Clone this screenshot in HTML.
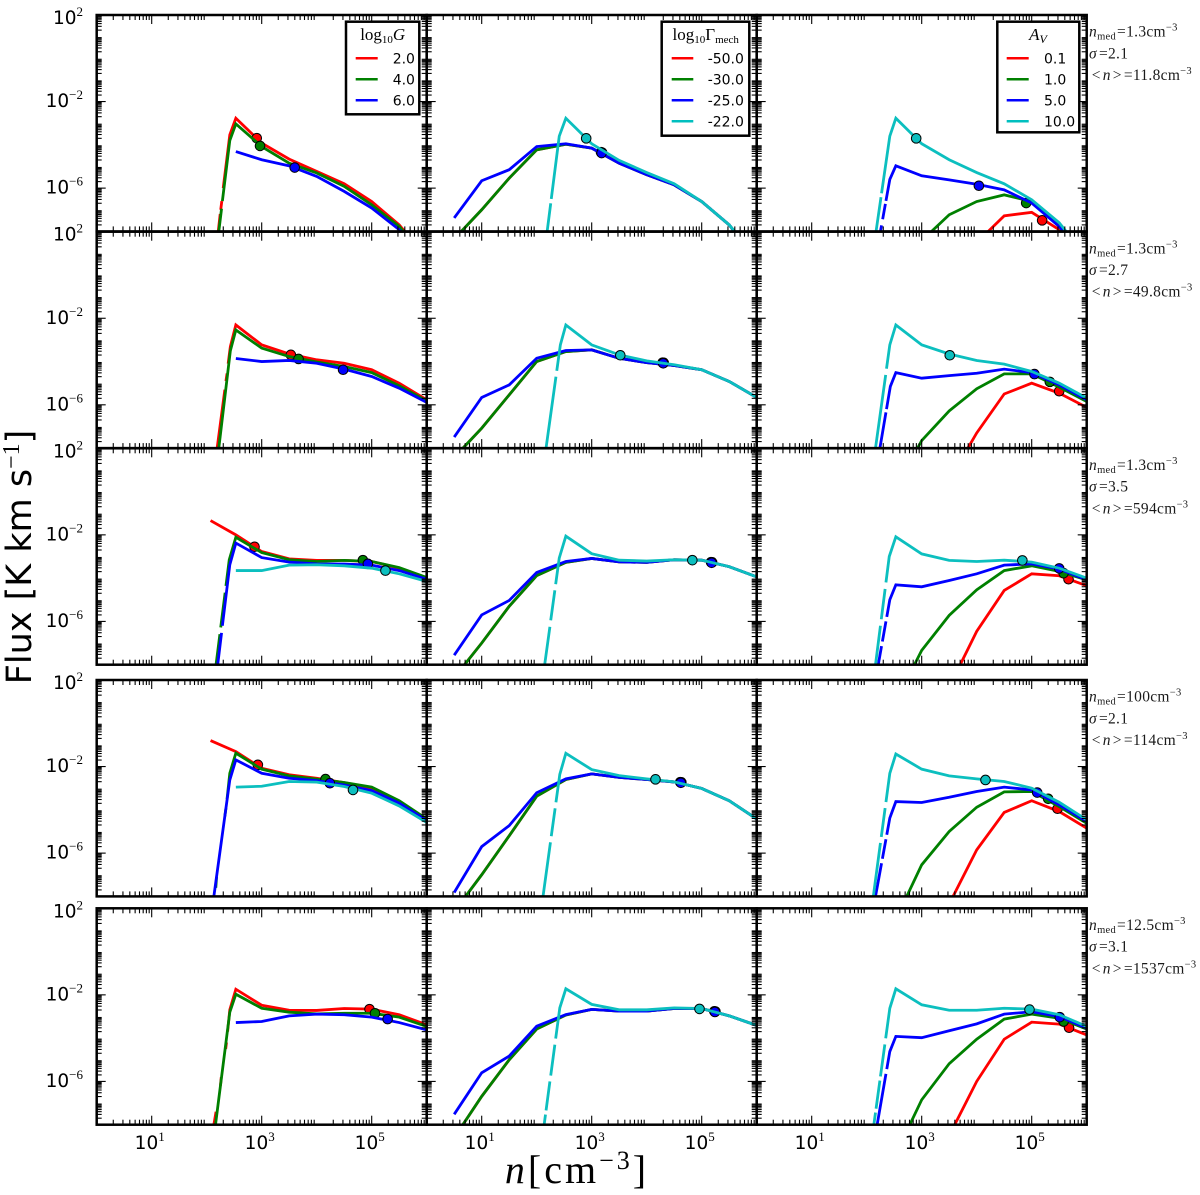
<!DOCTYPE html>
<html lang="en">
<head>
<meta charset="utf-8">
<title>Flux versus density grid</title>
<style>
html,body{margin:0;padding:0;background:#fff}
svg{display:block}
.tick-label{font-family:"DejaVu Sans","Liberation Sans",sans-serif;font-size:18.5px;fill:#000}
.sup{font-family:"Liberation Serif",serif;font-size:13px}
.ann{font-family:"Liberation Serif",serif;font-size:15.5px;fill:#1a1a1a;letter-spacing:.3px}
.leg{font-family:"DejaVu Sans","Liberation Sans",sans-serif;font-size:14px;fill:#000}
.legt{font-family:"Liberation Serif",serif;font-size:17px;fill:#000}
</style>
</head>
<body>
<svg xmlns="http://www.w3.org/2000/svg" width="1200" height="1195" viewBox="0 0 1200 1195">
<rect x="0" y="0" width="1200" height="1195" fill="#fff"/>
<g id="panels"></g>

<g>
<rect x="346" y="21.7" width="73.3" height="92.6" fill="#fff" stroke="#000" stroke-width="2.5"/>
<text class="legt" x="382.7" y="40" text-anchor="middle">log<tspan dy="3" font-size="11">10</tspan><tspan dy="-3" font-style="italic">G</tspan></text>
<line x1="355.7" x2="377.7" y1="58.3" y2="58.3" stroke="#f00" stroke-width="2.5"/>
<text class="leg" x="392.7" y="63.5">2.0</text>
<line x1="355.7" x2="377.7" y1="79.3" y2="79.3" stroke="#008000" stroke-width="2.5"/>
<text class="leg" x="392.7" y="84.5">4.0</text>
<line x1="355.7" x2="377.7" y1="100.3" y2="100.3" stroke="#00f" stroke-width="2.5"/>
<text class="leg" x="392.7" y="105.5">6.0</text>
</g>

<g>
<rect x="661.7" y="21.7" width="87.6" height="114" fill="#fff" stroke="#000" stroke-width="2.5"/>
<text class="legt" x="705.7" y="40" text-anchor="middle">log<tspan dy="3" font-size="11">10</tspan><tspan dy="-3">Γ</tspan><tspan dy="3" font-size="11">mech</tspan></text>
<line x1="671.7" x2="693.3" y1="58.3" y2="58.3" stroke="#f00" stroke-width="2.5"/>
<text class="leg" x="707.7" y="63.5">-50.0</text>
<line x1="671.7" x2="693.3" y1="79.3" y2="79.3" stroke="#008000" stroke-width="2.5"/>
<text class="leg" x="707.7" y="84.5">-30.0</text>
<line x1="671.7" x2="693.3" y1="100.3" y2="100.3" stroke="#00f" stroke-width="2.5"/>
<text class="leg" x="707.7" y="105.5">-25.0</text>
<line x1="671.7" x2="693.3" y1="121.3" y2="121.3" stroke="#00bfbf" stroke-width="2.5"/>
<text class="leg" x="707.7" y="126.5">-22.0</text>
</g>

<g>
<rect x="997.3" y="21.7" width="82" height="110.6" fill="#fff" stroke="#000" stroke-width="2.5"/>
<text class="legt" x="1038" y="40" text-anchor="middle" font-style="italic">A<tspan dy="3" font-size="12">V</tspan></text>
<line x1="1006.7" x2="1028.7" y1="58.3" y2="58.3" stroke="#f00" stroke-width="2.5"/>
<text class="leg" x="1044" y="63.5">0.1</text>
<line x1="1006.7" x2="1028.7" y1="79.3" y2="79.3" stroke="#008000" stroke-width="2.5"/>
<text class="leg" x="1044" y="84.5">1.0</text>
<line x1="1006.7" x2="1028.7" y1="100.3" y2="100.3" stroke="#00f" stroke-width="2.5"/>
<text class="leg" x="1044" y="105.5">5.0</text>
<line x1="1006.7" x2="1028.7" y1="121.3" y2="121.3" stroke="#00bfbf" stroke-width="2.5"/>
<text class="leg" x="1044" y="126.5">10.0</text>
</g>

<g>
<text class="ann" x="1089" y="36.7"><tspan font-style="italic">n</tspan><tspan dy="3" font-size="10.5">med</tspan><tspan dy="-3" dx="1">=1.3cm</tspan><tspan dy="-6" font-size="10.5">−3</tspan></text>
<text class="ann" x="1089" y="58.3"><tspan font-style="italic">σ</tspan><tspan dx="2">=2.1</tspan></text>
<text class="ann" x="1091.7" y="80">&lt;<tspan dx="2" font-style="italic">n</tspan><tspan dx="2">&gt;</tspan><tspan dx="2">=11.8cm</tspan><tspan dy="-6" font-size="10.5">−3</tspan></text>
</g>
<g>
<text class="ann" x="1089" y="253.4"><tspan font-style="italic">n</tspan><tspan dy="3" font-size="10.5">med</tspan><tspan dy="-3" dx="1">=1.3cm</tspan><tspan dy="-6" font-size="10.5">−3</tspan></text>
<text class="ann" x="1089" y="275"><tspan font-style="italic">σ</tspan><tspan dx="2">=2.7</tspan></text>
<text class="ann" x="1091.7" y="296.7">&lt;<tspan dx="2" font-style="italic">n</tspan><tspan dx="2">&gt;</tspan><tspan dx="2">=49.8cm</tspan><tspan dy="-6" font-size="10.5">−3</tspan></text>
</g>
<g>
<text class="ann" x="1089" y="470"><tspan font-style="italic">n</tspan><tspan dy="3" font-size="10.5">med</tspan><tspan dy="-3" dx="1">=1.3cm</tspan><tspan dy="-6" font-size="10.5">−3</tspan></text>
<text class="ann" x="1089" y="491.6"><tspan font-style="italic">σ</tspan><tspan dx="2">=3.5</tspan></text>
<text class="ann" x="1091.7" y="513.3">&lt;<tspan dx="2" font-style="italic">n</tspan><tspan dx="2">&gt;</tspan><tspan dx="2">=594cm</tspan><tspan dy="-6" font-size="10.5">−3</tspan></text>
</g>
<g>
<text class="ann" x="1089" y="701.7"><tspan font-style="italic">n</tspan><tspan dy="3" font-size="10.5">med</tspan><tspan dy="-3" dx="1">=100cm</tspan><tspan dy="-6" font-size="10.5">−3</tspan></text>
<text class="ann" x="1089" y="723.3"><tspan font-style="italic">σ</tspan><tspan dx="2">=2.1</tspan></text>
<text class="ann" x="1091.7" y="745">&lt;<tspan dx="2" font-style="italic">n</tspan><tspan dx="2">&gt;</tspan><tspan dx="2">=114cm</tspan><tspan dy="-6" font-size="10.5">−3</tspan></text>
</g>
<g>
<text class="ann" x="1089" y="930"><tspan font-style="italic">n</tspan><tspan dy="3" font-size="10.5">med</tspan><tspan dy="-3" dx="1">=12.5cm</tspan><tspan dy="-6" font-size="10.5">−3</tspan></text>
<text class="ann" x="1089" y="951.6"><tspan font-style="italic">σ</tspan><tspan dx="2">=3.1</tspan></text>
<text class="ann" x="1091.7" y="973.3">&lt;<tspan dx="2" font-style="italic">n</tspan><tspan dx="2">&gt;</tspan><tspan dx="2">=1537cm</tspan><tspan dy="-6" font-size="10.5">−3</tspan></text>
</g>

<text x="31" y="557" transform="rotate(-90 31 557)" text-anchor="middle" font-family="'DejaVu Sans','Liberation Sans',sans-serif" font-size="35px" fill="#000">Flux [K km s<tspan dy="-12" font-size="24px" font-family="'Liberation Serif',serif">−1</tspan><tspan dy="12">]</tspan></text>
<text x="577" y="1183" text-anchor="middle" font-family="'Liberation Serif',serif" font-size="40px" fill="#000" letter-spacing="3"><tspan font-style="italic">n</tspan>[cm<tspan dy="-14" font-size="26px">−3</tspan><tspan dy="14">]</tspan></text>

<script>
// Shared density grid, log10 of n [cm^-3]
const logN = [0.5, 1, 1.5, 2, 2.53, 3, 3.5, 4, 4.5, 5, 5.5, 6];
const n = null;

// Tick definitions
const xMajorExponents = [1, 3, 5];
const xDecades = [0, 1, 2, 3, 4, 5];
const yMajorExponents = [2, -2, -6];
const yDecades = [-8, -7, -6, -5, -4, -3, -2, -1, 0, 1];
const minorMultiples = [2, 3, 4, 5, 6, 7, 8, 9];
const xTickLabels = ['1', '3', '5'];
const yTickLabels = ['2', '−2', '−6'];

// Column 1 (log10 G): log10 flux on the density grid; rises are [log n, log flux] with null for breaks
const a1Red = [n,n,n,n,-2.77,-3.92,-4.66,-5.23,-5.8,-6.62,-7.7,-9.2];
const a1RedRise = [[2.21,-8],[2.245,-7.2],null,[2.255,-7.0],[2.275,-6.6],null,[2.3,-6.0],[2.42,-3.54]];
const a1Green = [n,n,n,n,-3.03,-4.08,-4.85,-5.3,-5.92,-6.77,-7.77,-9.3];
const a1GreenRise = [[2.22,-8],[2.27,-6.95],null,[2.285,-6.6],[2.42,-3.8]];
const a1Blue = [n,n,n,n,-4.31,-4.69,-4.97,-5.46,-6.15,-6.92,-7.92,-9.4];
const a1Marks = [[2.91,-3.69],[2.97,-4.05],[3.6,-5.05]];

const a2Red = [n,n,n,n,-2.31,-3.23,-3.65,-3.92,-4.08,-4.38,-5,-5.77];
const a2RedRise = [[2.19,-8],[2.33,-5.3],null,[2.35,-4.9],[2.37,-4.55],null,[2.39,-4.1],[2.43,-3.31]];
const a2Green = [n,n,n,n,-2.54,-3.38,-3.77,-4.02,-4.23,-4.51,-5.12,-5.82];
const a2GreenRise = [[2.22,-8],[2.43,-3.5]];
const a2Blue = [n,n,n,n,-3.86,-4.0,-3.95,-4.08,-4.35,-4.69,-5.23,-5.89];
const a2Marks = [[3.53,-3.69],[3.67,-3.88],[4.48,-4.38]];

const a3Red = [n,n,n,n,-2,-2.77,-3.11,-3.18,-3.18,-3.23,-3.54,-4];
const a3RedRise = [[2.07,-1.34]];
const a3Green = [n,n,n,n,-2.11,-2.82,-3.15,-3.23,-3.18,-3.23,-3.51,-3.97];
const a3GreenRise = [[2.17,-8],[2.24,-6.59],null,[2.255,-6.28],[2.335,-4.67],null,[2.35,-4.36],[2.41,-3.15]];
const a3Blue = [n,n,n,n,-2.38,-3.05,-3.26,-3.34,-3.35,-3.4,-3.65,-4.05];
const a3BlueRise = [[2.2,-8],[2.27,-6.53],null,[2.285,-6.2],[2.42,-3.38]];
const a3Cyan = [n,n,n,n,-3.65,-3.65,-3.4,-3.38,-3.43,-3.54,-3.8,-4.15];
const a3Marks = [[2.87,-2.55],[4.84,-3.17],[4.93,-3.34],[5.25,-3.65]];

const a4Red = [n,n,n,n,-1.31,-2.08,-2.38,-2.54,-2.74,-3,-3.62,-4.42];
const a4RedRise = [[2.07,-0.8]];
const a4Green = [n,n,n,n,-1.38,-2.12,-2.43,-2.58,-2.74,-2.95,-3.58,-4.42];
const a4GreenRise = [[2.165,-7.6],[2.18,-7.1],null,[2.33,-4.3],[2.35,-3.92],null,[2.37,-3.5],[2.42,-2.31]];
const a4Blue = [n,n,n,n,-1.69,-2.31,-2.54,-2.65,-2.85,-3.11,-3.69,-4.49];
const a4BlueRise = [[2.13,-8],[2.42,-2.62]];
const a4Cyan = [n,n,n,n,-2.95,-2.91,-2.69,-2.72,-2.92,-3.23,-3.82,-4.58];
const a4Marks = [[2.93,-1.92],[4.16,-2.58],[4.24,-2.77],[4.66,-3.08]];

const a5Red = [n,n,n,n,-1.74,-2.48,-2.71,-2.72,-2.63,-2.66,-2.92,-3.38];
const a5RedRise = [[2.13,-8],[2.17,-7.4],null,[2.25,-6.2],[2.265,-5.8],null,[2.345,-4.5],[2.36,-4.2],null,[2.38,-3.7],[2.42,-2.69]];
const a5Green = [n,n,n,n,-1.97,-2.62,-2.8,-2.88,-2.85,-2.85,-3.03,-3.46];
const a5GreenRise = [[2.16,-8],[2.42,-2.8]];
const a5Blue = [n,n,n,n,-3.28,-3.23,-2.97,-2.89,-2.92,-3.03,-3.28,-3.62];
const a5Marks = [[4.96,-2.66],[5.06,-2.85],[5.29,-3.12]];

// Column 2 (log10 Gamma_mech)
const b1Red = [-8.35,-7,-5.54,-4.23,-3.97,-4.15,-4.85,-5.38,-5.85,-6.62,-7.7,-9.3];
const b1Green = [-8.35,-7,-5.54,-4.23,-3.97,-4.15,-4.85,-5.38,-5.85,-6.62,-7.7,-9.3];
const b1Blue = [-7.38,-5.66,-5.15,-4.08,-3.95,-4.15,-4.85,-5.38,-5.85,-6.62,-7.7,-9.3];
const b1Cyan = [n,n,n,n,-2.77,-3.95,-4.72,-5.28,-5.8,-6.62,-7.7,-9.2];
const b1CyanRise = [[2.19,-8],[2.255,-6.7],null,[2.265,-6.5],[2.41,-3.6]];
const b1Marks = [[3.17,-4.34],[3.19,-4.36],[3.18,-4.38],[2.9,-3.7]];

const b2Red = [-8.43,-7.08,-5.54,-4,-3.54,-3.46,-3.85,-4.05,-4.18,-4.38,-4.92,-5.66];
const b2Green = [-8.43,-7.08,-5.54,-4,-3.54,-3.46,-3.85,-4.05,-4.18,-4.38,-4.92,-5.66];
const b2Blue = [-7.49,-5.66,-5.08,-3.85,-3.49,-3.46,-3.85,-4.05,-4.18,-4.38,-4.92,-5.66];
const b2Cyan = [n,n,n,n,-2.31,-3.23,-3.69,-3.97,-4.15,-4.38,-4.92,-5.66];
const b2CyanRise = [[2.17,-8],[2.35,-4.7],null,[2.365,-4.43],[2.43,-3.23]];
const b2Marks = [[4.29,-4.05],[4.31,-4.06],[4.3,-4.08],[3.52,-3.71]];

const b3Red = [-8.6,-7,-5.3,-3.88,-3.27,-3.09,-3.25,-3.27,-3.15,-3.17,-3.47,-3.94];
const b3Green = [-8.6,-7,-5.3,-3.88,-3.27,-3.09,-3.25,-3.27,-3.15,-3.17,-3.47,-3.94];
const b3Blue = [-7.56,-5.7,-5.03,-3.74,-3.23,-3.09,-3.25,-3.27,-3.15,-3.17,-3.47,-3.94];
const b3Cyan = [n,n,n,n,-2.06,-2.87,-3.17,-3.21,-3.15,-3.17,-3.47,-3.94];
const b3CyanRise = [[2.145,-8],[2.24,-6.25],null,[2.255,-5.95],[2.33,-4.56],null,[2.345,-4.28],[2.41,-3.07]];
const b3Marks = [[5.17,-3.26],[5.19,-3.27],[5.18,-3.29],[4.83,-3.17]];

const b4Red = [-8.7,-7,-5.2,-3.37,-2.6,-2.34,-2.5,-2.6,-2.71,-3.01,-3.58,-4.42];
const b4Green = [-8.7,-7,-5.2,-3.37,-2.6,-2.34,-2.5,-2.6,-2.71,-3.01,-3.58,-4.42];
const b4Blue = [-7.82,-5.7,-4.73,-3.21,-2.57,-2.34,-2.5,-2.6,-2.71,-3.01,-3.58,-4.42];
const b4Cyan = [n,n,n,n,-1.39,-2.14,-2.42,-2.57,-2.71,-3.01,-3.58,-4.42];
const b4CyanRise = [[2.115,-8],[2.25,-5.5],null,[2.265,-5.22],[2.335,-3.93],null,[2.35,-3.65],[2.42,-2.36]];
const b4Marks = [[4.61,-2.72],[4.63,-2.73],[4.62,-2.75],[4.16,-2.59]];

const b5Red = [-8.6,-6.69,-5,-3.58,-2.93,-2.67,-2.75,-2.75,-2.63,-2.63,-2.97,-3.41];
const b5Green = [-8.6,-6.69,-5,-3.58,-2.93,-2.67,-2.75,-2.75,-2.63,-2.63,-2.97,-3.41];
const b5Blue = [-7.52,-5.6,-4.83,-3.45,-2.91,-2.67,-2.75,-2.75,-2.63,-2.63,-2.97,-3.41];
const b5Cyan = [n,n,n,n,-1.72,-2.44,-2.69,-2.69,-2.6,-2.63,-2.97,-3.41];
const b5CyanRise = [[2.135,-8],[2.16,-7.53],null,[2.17,-7.34],[2.24,-6.0],null,[2.255,-5.73],[2.33,-4.3],null,[2.345,-4.02],[2.42,-2.6]];
const b5Marks = [[5.23,-2.76],[5.25,-2.77],[5.24,-2.79],[4.96,-2.65]];

// Column 3 (A_V)
const c1Red = [n,n,n,n,n,n,n,-8.52,-7.28,-7.12,-7.92,-9.5];
const c1Green = [n,n,n,n,n,-8.43,-7.23,-6.62,-6.31,-6.62,-7.77,-9.3];
const c1Blue = [n,n,n,n,-4.97,-5.43,-5.62,-5.82,-6.08,-6.69,-7.77,-9.3];
const c1BlueRise = [[2.25,-8],[2.27,-7.72],null,[2.29,-7.44],[2.34,-6.73],null,[2.35,-6.59],[2.42,-5.6]];
const c1Cyan = [n,n,n,n,-2.77,-3.95,-4.69,-5.28,-5.8,-6.54,-7.6,-9.2];
const c1CyanRise = [[2.17,-8],[2.26,-6.42],null,[2.27,-6.24],[2.42,-3.6]];
const c1Marks = [[5.19,-7.49],[4.9,-6.69],[4.04,-5.89],[2.9,-3.7]];

const c2Red = [n,n,n,n,n,n,-9.49,-7.3,-5.5,-5,-5.46,-6.12];
const c2Green = [n,n,n,n,-9.84,-7.65,-6.28,-5.26,-4.57,-4.57,-5.18,-5.85];
const c2Blue = [n,n,n,n,-4.51,-4.77,-4.65,-4.54,-4.35,-4.51,-5.08,-5.77];
const c2BlueRise = [[2.24,-8],[2.35,-6.35],null,[2.36,-6.2],[2.43,-5.15]];
const c2Cyan = [n,n,n,n,-2.31,-3.23,-3.65,-3.95,-4.12,-4.46,-5,-5.69];
const c2CyanRise = [[2.16,-8],[2.345,-4.62],null,[2.36,-4.33],[2.42,-3.23]];
const c2Marks = [[5.5,-5.37],[5.33,-4.94],[5.05,-4.58],[3.51,-3.71]];

const c3Red = [n,n,n,n,n,n,-9.03,-6.46,-4.57,-3.8,-3.89,-4.35];
const c3Green = [n,n,n,n,-9.69,-7.34,-5.72,-4.54,-3.65,-3.43,-3.69,-4.08];
const c3Blue = [n,n,n,n,-4.31,-4.4,-4.11,-3.8,-3.4,-3.34,-3.58,-4.08];
const c3BlueRise = [[2.21,-8],[2.27,-7.14],null,[2.285,-6.93],[2.35,-6],null,[2.365,-5.79],[2.42,-5]];
const c3Cyan = [n,n,n,n,-2.09,-2.88,-3.18,-3.23,-3.17,-3.26,-3.54,-4];
const c3CyanRise = [[2.16,-8],[2.25,-6.2],null,[2.265,-5.9],[2.335,-4.5],null,[2.35,-4.2],[2.41,-3]];
const c3Marks = [[5.67,-4.05],[5.58,-3.77],[5.5,-3.55],[4.83,-3.18]];

const c4Red = [n,n,n,n,n,n,-8.35,-5.85,-4.12,-3.58,-4.08,-4.85];
const c4Green = [n,n,n,n,-9.06,-6.54,-5,-3.88,-3.17,-3.15,-3.85,-4.62];
const c4Blue = [n,n,n,n,-3.62,-3.66,-3.42,-3.15,-2.95,-3.08,-3.77,-4.54];
const c4BlueRise = [[2.16,-8],[2.27,-6.47],null,[2.285,-6.26],[2.35,-5.36],null,[2.365,-5.15],[2.42,-4.38]];
const c4Cyan = [n,n,n,n,-1.42,-2.12,-2.43,-2.57,-2.69,-3,-3.65,-4.46];
const c4CyanRise = [[2.12,-8],[2.25,-5.53],null,[2.265,-5.25],[2.335,-3.92],null,[2.35,-3.64],[2.42,-2.31]];
const c4Marks = [[5.47,-3.95],[5.3,-3.49],[5.1,-3.2],[4.16,-2.62]];

const c5Red = [n,n,n,n,n,n,-8.5,-6,-4.05,-3.26,-3.35,-3.85];
const c5Green = [n,n,n,n,-9.35,-6.85,-5.18,-4.05,-3.12,-2.89,-3.08,-3.58];
const c5Blue = [n,n,n,n,-3.92,-3.98,-3.66,-3.34,-2.89,-2.78,-3,-3.54];
const c5BlueRise = [[2.19,-8],[2.35,-5.65],null,[2.365,-5.43],[2.42,-4.62]];
const c5Cyan = [n,n,n,n,-1.72,-2.46,-2.71,-2.71,-2.62,-2.66,-2.92,-3.46];
const c5CyanRise = [[2.13,-8],[2.16,-7.44],null,[2.17,-7.26],[2.24,-5.96],null,[2.25,-5.77],[2.33,-4.29],null,[2.345,-4.01],[2.42,-2.62]];
const c5Marks = [[5.68,-3.52],[5.58,-3.23],[5.51,-3.03],[4.96,-2.68]];

// Which series belong in which panel: colour name, values, rise
const panelTable = [
  [{m:a1Marks,s:[['red',a1Red,a1RedRise],['green',a1Green,a1GreenRise],['blue',a1Blue,[]]]},
   {m:b1Marks,s:[['red',b1Red,[]],['green',b1Green,[]],['blue',b1Blue,[]],['cyan',b1Cyan,b1CyanRise]]},
   {m:c1Marks,s:[['red',c1Red,[]],['green',c1Green,[]],['blue',c1Blue,c1BlueRise],['cyan',c1Cyan,c1CyanRise]]}],
  [{m:a2Marks,s:[['red',a2Red,a2RedRise],['green',a2Green,a2GreenRise],['blue',a2Blue,[]]]},
   {m:b2Marks,s:[['red',b2Red,[]],['green',b2Green,[]],['blue',b2Blue,[]],['cyan',b2Cyan,b2CyanRise]]},
   {m:c2Marks,s:[['red',c2Red,[]],['green',c2Green,[]],['blue',c2Blue,c2BlueRise],['cyan',c2Cyan,c2CyanRise]]}],
  [{m:a3Marks,s:[['red',a3Red,a3RedRise],['green',a3Green,a3GreenRise],['blue',a3Blue,a3BlueRise],['cyan',a3Cyan,[]]]},
   {m:b3Marks,s:[['red',b3Red,[]],['green',b3Green,[]],['blue',b3Blue,[]],['cyan',b3Cyan,b3CyanRise]]},
   {m:c3Marks,s:[['red',c3Red,[]],['green',c3Green,[]],['blue',c3Blue,c3BlueRise],['cyan',c3Cyan,c3CyanRise]]}],
  [{m:a4Marks,s:[['red',a4Red,a4RedRise],['green',a4Green,a4GreenRise],['blue',a4Blue,a4BlueRise],['cyan',a4Cyan,[]]]},
   {m:b4Marks,s:[['red',b4Red,[]],['green',b4Green,[]],['blue',b4Blue,[]],['cyan',b4Cyan,b4CyanRise]]},
   {m:c4Marks,s:[['red',c4Red,[]],['green',c4Green,[]],['blue',c4Blue,c4BlueRise],['cyan',c4Cyan,c4CyanRise]]}],
  [{m:a5Marks,s:[['red',a5Red,a5RedRise],['green',a5Green,a5GreenRise],['blue',a5Blue,[]]]},
   {m:b5Marks,s:[['red',b5Red,[]],['green',b5Green,[]],['blue',b5Blue,[]],['cyan',b5Cyan,b5CyanRise]]},
   {m:c5Marks,s:[['red',c5Red,[]],['green',c5Green,[]],['blue',c5Blue,c5BlueRise],['cyan',c5Cyan,c5CyanRise]]}]
];

const COLORS = {red:'#ff0000', green:'#008000', blue:'#0000ff', cyan:'#0cbfbf'};
const COL_LEFT = [96.7, 426.7, 756.7];
const ROW_TOP = [15, 231.7, 448.3, 680, 908.3];
const DECADE_X = 55;
const DECADE_Y = 21.64;
const PANEL_W = 330;
const PANEL_H = 216.4;
const SVGNS = 'http://www.w3.org/2000/svg';

function xPos(col, v) { return COL_LEFT[col] + v * DECADE_X; }
function yPos(row, v) { return ROW_TOP[row] + (2 - v) * DECADE_Y; }

function mk(parent, tag, attrs) {
  const el = document.createElementNS(SVGNS, tag);
  for (const k in attrs) el.setAttribute(k, attrs[k]);
  parent.appendChild(el);
  return el;
}

function seriesPath(col, row, rise, vals) {
  let d = '', pen = false, started = false;
  rise.forEach(function (p) {
    if (p === null) { pen = false; return; }
    d += (pen ? 'L' : 'M') + xPos(col, p[0]).toFixed(2) + ' ' + yPos(row, p[1]).toFixed(2);
    pen = true;
  });
  vals.forEach(function (v, i) {
    if (v === null) { if (started) pen = false; return; }
    started = true;
    d += (pen ? 'L' : 'M') + xPos(col, logN[i]).toFixed(2) + ' ' + yPos(row, v).toFixed(2);
    pen = true;
  });
  return d;
}

function tick(g, x1, y1, x2, y2) {
  const t = mk(g, 'line', {x1: x1.toFixed(2), y1: y1.toFixed(2), x2: x2.toFixed(2), y2: y2.toFixed(2), stroke: '#000', 'stroke-width': 1.1});
  
  
}

const root = document.getElementById('panels');
const defs = mk(root, 'defs', {});

panelTable.forEach(function (rowPanels, row) {
  rowPanels.forEach(function (panel, col) {
    const clipId = 'clip-' + row + '-' + col;
    const clip = mk(defs, 'clipPath', {id: clipId});
    mk(clip, 'rect', {x: COL_LEFT[col], y: ROW_TOP[row], width: PANEL_W, height: PANEL_H});

    const g = mk(root, 'g', {});
    
    

    const plot = mk(g, 'g', {'clip-path': 'url(#' + clipId + ')'});
    
    

    panel.s.forEach(function (s, i) {
      const path = mk(plot, 'path', {d: seriesPath(col, row, s[2], s[1]), fill: 'none', stroke: COLORS[s[0]], 'stroke-width': 2.8, 'stroke-linejoin': 'miter', 'stroke-miterlimit': 6});
      
      
      const mark = panel.m[i];
      const dot = mk(plot, 'circle', {cx: xPos(col, mark[0]).toFixed(2), cy: yPos(row, mark[1]).toFixed(2), r: 4.8, fill: COLORS[s[0]], stroke: '#000', 'stroke-width': 1});
      
      
    });

    const L = COL_LEFT[col], T = ROW_TOP[row], R = L + PANEL_W, B = T + PANEL_H;
    const ticks = mk(g, 'g', {});
    
    
    xMajorExponents.forEach(function (e) {
      const x = xPos(col, e);
      tick(ticks, x, T, x, T + 9);
      tick(ticks, x, B, x, B - 9);
    });
    xDecades.forEach(function (dec) {
      minorMultiples.forEach(function (m) {
        const x = xPos(col, dec + Math.log10(m));
        tick(ticks, x, T, x, T + 5);
        tick(ticks, x, B, x, B - 5);
      });
    });
    yMajorExponents.forEach(function (e) {
      const y = yPos(row, e);
      tick(ticks, L, y, L + 9, y);
      tick(ticks, R, y, R - 9, y);
    });
    yDecades.forEach(function (dec) {
      minorMultiples.forEach(function (m) {
        const y = yPos(row, dec + Math.log10(m));
        tick(ticks, L, y, L + 5, y);
        tick(ticks, R, y, R - 5, y);
      });
    });

    const frame = mk(g, 'rect', {x: L, y: T, width: PANEL_W, height: PANEL_H, fill: 'none', stroke: '#000', 'stroke-width': 2.5});
    
    

    if (col === 0) {
      yMajorExponents.forEach(function (e, i) {
        const lab = mk(g, 'text', {x: 83, y: (yPos(row, e) + (e === 2 ? 9 : 5.5)).toFixed(1), 'text-anchor': 'end', class: 'tick-label'});
        
        
        const base = mk(lab, 'tspan', {});
        base.textContent = '10';
        const sup = mk(lab, 'tspan', {dy: -8, class: 'sup'});
        sup.textContent = yTickLabels[i];
      });
    }
    if (row === 4) {
      xMajorExponents.forEach(function (e, i) {
        const lab = mk(g, 'text', {x: (xPos(col, e) - 2).toFixed(1), y: 1149, 'text-anchor': 'middle', class: 'tick-label'});
        
        
        const base = mk(lab, 'tspan', {});
        base.textContent = '10';
        const sup = mk(lab, 'tspan', {dy: -8, class: 'sup'});
        sup.textContent = xTickLabels[i];
      });
    }
  });
});
</script>
</svg>
</body>
</html>
